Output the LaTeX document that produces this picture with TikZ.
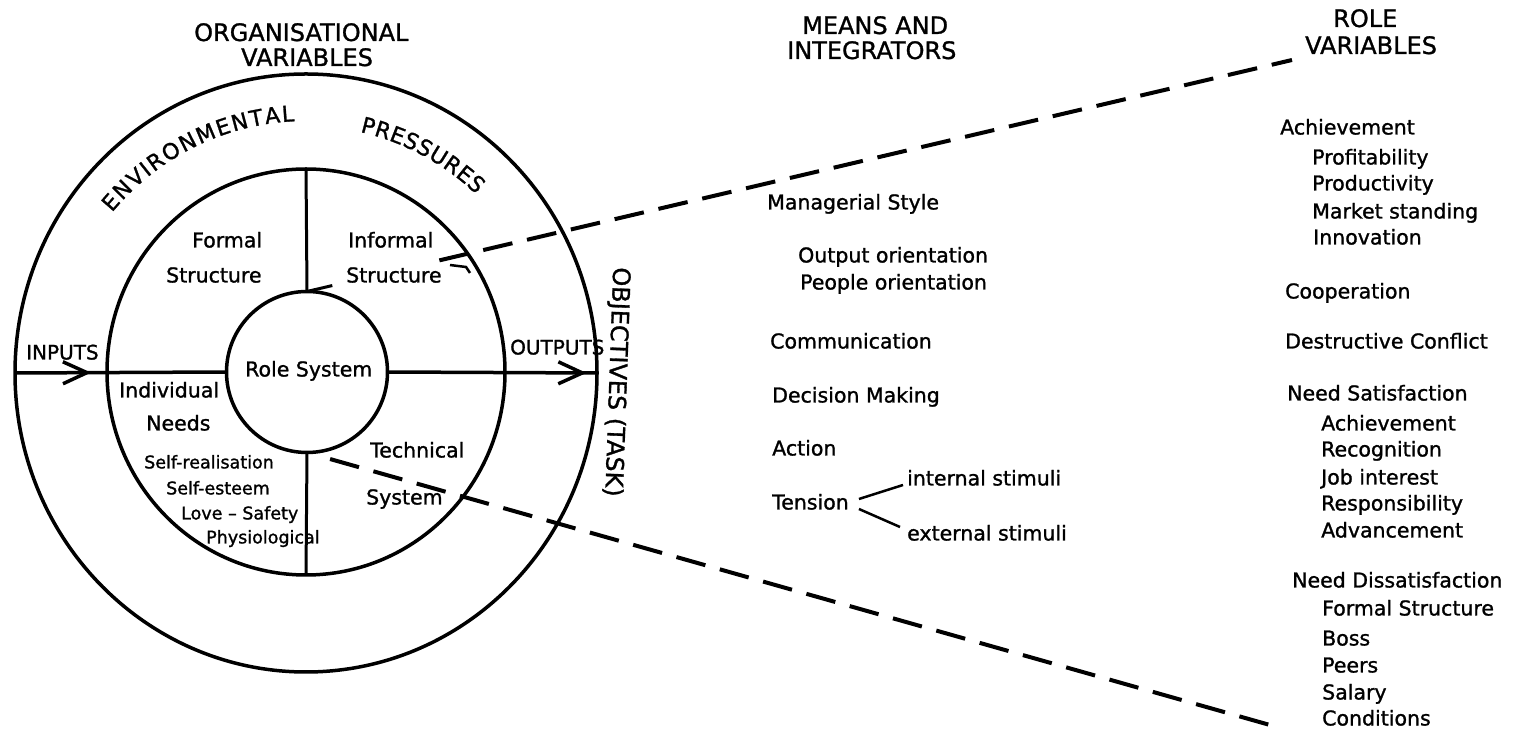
\documentclass[tikz,border=0pt]{standalone}
\usepackage{fontspec}
\setmainfont{DejaVu Sans}[RawFeature={embolden=1.2}]
\usetikzlibrary{shapes.geometric, arrows.meta, decorations.markings, calc}

\newcommand{\bodyfont}{\fontsize{20.5}{24}\selectfont}
\newcommand{\headfont}{\fontsize{24}{28}\selectfont}
\newcommand{\arcfont}{\fontsize{22}{26}\selectfont}
\newcommand{\smallfont}{\fontsize{17.5}{20}\selectfont}

% Sets a word letter by letter along a circular arc, reading clockwise.
% #1 name prefix, #2 comma list of letters, #3 centre, #4 baseline radius (pt),
% #5 angle of the left edge of the first letter, #6 extra space between letters (pt)
\newcommand\arcword[6]{%
  \begingroup
  \arcfont
  \xdef\arcangG{#5}%
  \foreach \ch [count=\k] in {#2} {%
    \pgfmathwidth{"\ch"}%
    \let\chw\pgfmathresult
    \pgfmathsetmacro\arcmid{\arcangG - (\chw/2)/#4*180/pi}%
    \node[inner sep=0pt, anchor=base, font=\arcfont, rotate=\arcmid-90]
      (#1\k) at ($(#3)+(\arcmid:#4pt)$) {\ch};
    \pgfmathsetmacro\arcnext{\arcangG - (\chw + #6)/#4*180/pi}%
    \xdef\arcangG{\arcnext}%
  }%
  \endgroup
}

\begin{document}
\begin{tikzpicture}[x=1pt, y=1pt,
  ring/.style={draw, line width=3.5pt, inner sep=0pt, outer sep=0pt},
  lbl/.style={inner sep=0pt, anchor=base west, font=\bodyfont},
  head/.style={inner sep=0pt, anchor=base west, font=\headfont},
  sml/.style={inner sep=0pt, anchor=base west, font=\smallfont},
  axisline/.style={line width=3.5pt},
  divider/.style={line width=3pt},
  proj/.style={line width=4pt, dash pattern=on 30pt off 15pt},
  brace/.style={line width=2.5pt},
  midarrow/.style={postaction={decorate, decoration={markings,
      mark=at position #1 with {\arrow[line width=3.5pt]{Straight Barb[length=24pt, width=22pt]}}}}}
]
\useasboundingbox (0,0) rectangle (1514,733);

% ---- the three rings ----
\node[ring, ellipse, minimum width=582pt, minimum height=598pt] (env) at (306,360) {};
\node[ring, ellipse, minimum width=398pt, minimum height=406pt] (org) at (306,361) {};
\node[ring, circle, minimum size=161pt] (role) at (307,361) {};

% ---- inputs / outputs axis ----
\draw[axisline, midarrow=0.36] (env.west) -- (role.west);
\draw[axisline, midarrow=0.95] (role.east) -- (env.east);

% ---- dividers of the middle ring ----
\draw[divider] (role.north) -- (org.north);
\draw[divider] (role.south) -- (org.south);

% ---- projection lines towards the role variables ----
\coordinate (upend) at (1292,673);
\coordinate (loend) at (1277,6);
\draw[divider] (role.north) -- ($(role.north)!26pt!(upend)$);
\draw[proj] ($(role.north)!136pt!(upend)$) -- (upend);
\draw[proj] ($(role.south)!24pt!(loend)$) -- (loend);
\draw[brace] (450,468) -- (466,466) -- (470,460);

% ---- curved ring labels ----
\arcword{envl}{E,N,V,I,R,O,N,M,E,N,T,A,L}{org.center}{251}{140.6}{1.6}
\arcword{prsl}{P,R,E,S,S,U,R,E,S}{org.center}{246}{77.3}{0.5}

% ---- headings ----
\node[head] (hOrgA) at (194,692) {ORGANISATIONAL};
\node[head] (hOrgB) at (241,667) {VARIABLES};
\node[head] (hMeansA) at (802,699) {MEANS AND};
\node[head] (hMeansB) at (787,674) {INTEGRATORS};
\node[head] (hRoleA) at (1333,706) {ROLE};
\node[head] (hRoleB) at (1305,679) {VARIABLES};
\node[font=\headfont, inner sep=0pt, rotate=-92] (obj) at (616,351) {OBJECTIVES (TASK)};

% ---- labels inside the rings ----
\node[lbl] (formA) at (192,485.5) {Formal};
\node[lbl] (formB) at (166,450.5) {Structure};
\node[lbl] (infA) at (348,485.5) {Informal};
\node[lbl] (infB) at (346,450.5) {Structure};
\node[lbl, font=\fontsize{20}{24}\selectfont] (inputs) at (26,373.5) {INPUTS};
\node[lbl, font=\fontsize{20}{24}\selectfont] (outputs) at (510,378.5) {OUTPUTS};
\node[lbl] (rolelbl) at (245,356.5) {Role System};
\node[lbl] (indA) at (119,335.5) {Individual};
\node[lbl] (indB) at (146,302.5) {Needs};
\node[sml] (need1) at (144,264.6) {Self-realisation};
\node[sml] (need2) at (166,238.6) {Self-esteem};
\node[sml] (need3) at (181,213.6) {Love – Safety};
\node[sml] (need4) at (206,189.6) {Physiological};
\node[lbl] (techA) at (370,275.5) {Technical};
\node[lbl] (techB) at (366,228.5) {System};

% ---- means and integrators ----
\node[lbl] (mstyle) at (767,523.5) {Managerial Style};
\node[lbl] (outor) at (798,470.5) {Output orientation};
\node[lbl] (peopor) at (800,443.5) {People orientation};
\node[lbl] (comm) at (770,384.5) {Communication};
\node[lbl] (decis) at (772,330.5) {Decision Making};
\node[lbl] (action) at (772,277.5) {Action};
\node[lbl] (tension) at (772,223.5) {Tension};
\node[lbl] (intst) at (907,247.5) {internal stimuli};
\node[lbl] (extst) at (907,192.5) {external stimuli};
\draw[brace] ([shift={(10pt,10.5pt)}]tension.base east) -- ([shift={(-4pt,0.5pt)}]intst.base west);
\draw[brace] ([shift={(10pt,0.5pt)}]tension.base east) -- ([shift={(-7pt,13.5pt)}]extst.base west);

% ---- role variables ----
\node[lbl] (ach) at (1280,598.5) {Achievement};
\node[lbl] (prof) at (1312,568.5) {Profitability};
\node[lbl] (prod) at (1312,542.5) {Productivity};
\node[lbl] (mkt) at (1312,514.5) {Market standing};
\node[lbl] (innov) at (1313,488.5) {Innovation};
\node[lbl] (coop) at (1285,434.5) {Cooperation};
\node[lbl] (dconf) at (1285,384.5) {Destructive Conflict};
\node[lbl] (nsat) at (1287,332.5) {Need Satisfaction};
\node[lbl] (sat1) at (1321,302.5) {Achievement};
\node[lbl] (sat2) at (1321,276.5) {Recognition};
\node[lbl] (sat3) at (1321,248.5) {Job interest};
\node[lbl] (sat4) at (1321,222.5) {Responsibility};
\node[lbl] (sat5) at (1321,195.5) {Advancement};
\node[lbl] (ndis) at (1292,145.5) {Need Dissatisfaction};
\node[lbl] (dis1) at (1322,117.5) {Formal Structure};
\node[lbl] (dis2) at (1322,87.5) {Boss};
\node[lbl] (dis3) at (1322,60.5) {Peers};
\node[lbl] (dis4) at (1322,33.5) {Salary};
\node[lbl] (dis5) at (1322,7.5) {Conditions};
\end{tikzpicture}
\end{document}
